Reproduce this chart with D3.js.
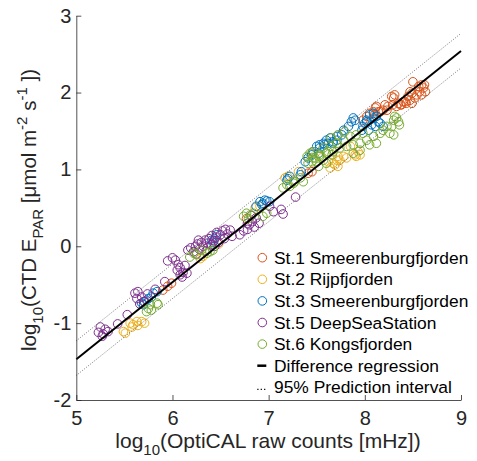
<!DOCTYPE html>
<html>
<head>
<meta charset="utf-8">
<script src="https://cdn.jsdelivr.net/npm/d3@7/dist/d3.min.js"></script>
<style>
  html, body { margin: 0; padding: 0; background: #fff; }
  svg { display: block; font-family: "Liberation Sans", Arial, Helvetica, sans-serif; }
</style>
</head>
<body>
<svg id="chart" width="477" height="461"></svg>
<script>
// ---- Data ----
const seriesNames = ["St.1 Smeerenburgfjorden", "St.2 Rijpfjorden", "St.3 Smeerenburgfjorden", "St.5 DeepSeaStation", "St.6 Kongsfjorden"];
const seriesColors = ["#D95319", "#EDB120", "#0072BD", "#7E2F8E", "#77AC30"];

const st1 = [[5.90,-0.57],[5.99,-0.48],[5.95,-0.52],[6.77,0.36],[7.41,0.95],[7.45,0.97],
  [8.50,2.14],[8.56,2.08],[8.59,2.10],[8.61,2.06],[8.57,2.01],[8.54,1.97],[8.49,1.99],[8.45,1.95],
  [8.42,1.88],[8.38,1.84],[8.35,1.86],[8.33,1.82],[8.30,1.93],[8.28,1.95],[8.24,1.82],[8.19,1.77],
  [8.16,1.75],[8.12,1.82],[8.09,1.75],[8.05,1.73],[8.02,1.69],[7.98,1.64],[8.11,1.80],[8.21,1.84],
  [8.14,1.75],[8.29,1.84],[8.31,1.97],[8.63,2.01],[8.59,1.97],[8.47,1.90],[8.43,1.86],[8.40,1.88],
  [8.49,1.86],[8.37,1.84],[8.23,1.77],[8.10,1.71],[8.47,2.01],[8.52,1.93],[8.62,2.10]];

const st2 = [[5.49,-1.11],[5.51,-1.13],[5.56,-1.00],[5.59,-1.02],[5.58,-1.05],[5.63,-0.98],[5.68,-0.98],
  [5.71,-1.00],[5.64,-1.03],[6.29,-0.16],[6.32,-0.13],[6.48,0.03],[6.86,0.50],[6.91,0.52],[7.17,0.89],
  [7.20,0.91],[7.26,0.86],[7.31,0.97],[7.45,1.21],[7.55,1.15],[7.62,1.10],[7.64,1.02],[7.67,1.08],
  [7.69,1.06],[7.71,1.12],[7.72,1.04],[7.74,1.12],[7.78,1.17],[7.81,1.15],[7.85,1.30],[7.90,1.19],
  [7.91,1.17],[7.93,1.23],[7.95,1.19],[7.72,1.17]];

const st3 = [[5.68,-0.74],[5.71,-0.72],[5.75,-0.68],[5.78,-0.66],[5.80,-0.61],[5.84,-0.59],[5.70,-0.76],
  [5.73,-0.70],[6.41,0.08],[6.44,0.10],[6.46,0.15],[6.42,0.05],[6.87,0.52],[6.91,0.58],[6.94,0.56],
  [6.96,0.60],[6.98,0.59],[7.01,0.58],[6.93,0.54],[7.19,0.86],[7.20,0.88],[7.22,0.91],[7.33,0.93],
  [7.34,0.97],[7.38,1.10],[7.41,1.15],[7.45,1.19],[7.46,1.23],[7.52,1.21],[7.50,1.30],[7.53,1.32],
  [7.57,1.34],[7.60,1.38],[7.64,1.41],[7.67,1.36],[7.71,1.43],[7.76,1.45],[7.78,1.51],[7.83,1.56],
  [7.86,1.62],[7.88,1.67],[7.90,1.64],[7.58,1.32],[7.62,1.34],[7.67,1.34],[7.71,1.38],[7.53,1.28],
  [7.97,1.51],[7.98,1.56],[8.02,1.62],[8.04,1.51],[8.05,1.71],[8.07,1.58],[8.09,1.67],[8.09,1.73],
  [8.11,1.56],[8.12,1.69],[8.14,1.62],[8.00,1.60],[8.16,1.60],[8.19,1.56],[8.02,1.64]];

const st5 = [[5.25,-1.05],[5.30,-1.08],[5.23,-1.12],[5.28,-1.14],[5.33,-1.11],[5.27,-1.17],[5.43,-1.01],
  [5.53,-0.89],[5.61,-0.61],[5.64,-0.59],[5.68,-0.66],[5.63,-0.68],[5.70,-0.72],[5.66,-0.75],[5.74,-0.62],
  [5.82,-0.56],[5.92,-0.46],[5.95,-0.19],[6.00,-0.15],[6.03,-0.18],[6.06,-0.24],[6.05,-0.31],[6.08,-0.28],
  [6.11,-0.34],[6.10,-0.40],[6.15,-0.35],[6.08,-0.37],[6.13,-0.25],[6.16,-0.05],[6.19,-0.02],[6.22,-0.07],
  [6.24,0.00],[6.26,0.03],[6.28,-0.04],[6.30,0.05],[6.32,0.00],[6.34,0.08],[6.36,0.04],[6.38,0.10],
  [6.40,0.02],[6.41,0.14],[6.43,0.07],[6.45,0.12],[6.46,0.18],[6.48,0.05],[6.50,0.15],[6.52,0.20],
  [6.54,0.10],[6.55,0.22],[6.57,0.16],[6.60,0.21],[6.62,0.13],[6.35,-0.06],[6.27,0.08],[6.44,0.00],
  [6.25,-0.10],[6.70,0.15],[6.74,0.20],[6.78,0.22],[6.80,0.28],[6.83,0.32],[6.85,0.25],[6.87,0.37],
  [6.82,0.40],[6.90,0.30],[6.78,0.30],[7.01,0.52],[7.05,0.45],[7.13,0.48],[7.15,0.42],[7.28,0.64]];

const st6 = [[5.77,-0.76],[5.84,-0.74],[5.85,-0.76],[5.75,-0.81],[5.78,-0.83],[5.73,-0.85],[6.18,-0.14],
  [6.22,-0.09],[6.25,-0.11],[6.30,-0.05],[6.36,-0.09],[6.39,-0.07],[6.42,-0.05],[6.74,0.39],[6.77,0.43],
  [6.79,0.36],[6.81,0.41],[6.84,0.43],[6.94,0.39],[6.98,0.43],[7.15,0.76],[7.19,0.80],[7.22,0.78],
  [7.26,0.82],[7.27,0.84],[7.33,0.89],[7.36,0.84],[7.40,1.17],[7.41,1.08],[7.43,1.21],[7.45,1.10],
  [7.46,1.23],[7.48,1.15],[7.50,1.10],[7.52,1.04],[7.53,1.19],[7.57,1.12],[7.60,1.08],[7.62,1.23],
  [7.66,1.19],[7.46,1.15],[7.53,1.17],[7.60,1.21],[7.67,1.23],[7.74,1.28],[7.81,1.30],[7.88,1.32],
  [7.95,1.34],[8.02,1.38],[8.09,1.43],[8.16,1.47],[8.19,1.51],[8.23,1.56],[7.57,1.28],[7.64,1.30],
  [7.71,1.34],[7.78,1.38],[7.85,1.43],[7.91,1.45],[7.98,1.47],[7.65,1.41],[7.72,1.45],[7.79,1.49],
  [8.05,1.32],[8.12,1.34],[7.88,1.21],[7.95,1.25],[8.28,1.56],[8.30,1.64],[8.35,1.62],[8.31,1.69],
  [8.26,1.47],[8.30,1.45],[8.36,1.58],[8.33,1.67]];

const seriesData = [st1, st2, st3, st5, st6];

// regression and 95% prediction interval (end points)
const fitX = [5, 9];
const fitY = [-1.47, 2.54];
const upperY = [-1.23, 2.77];
const lowerY = [-1.68, 2.32];

const xTicks = [5, 6, 7, 8, 9];
const yTicks = [-2, -1, 0, 1, 2, 3];
const extraLegend = ["Difference regression", "95% Prediction interval"];

// ---- Chart ----
const svg = d3.select("#chart");
const axisColor = "#262626";
const x = d3.scaleLinear().domain([5, 9]).range([76.3, 461]);
const y = d3.scaleLinear().domain([-2, 3]).range([400, 15.7]);

// points
seriesData.forEach((pts, i) => {
  svg.append("g").selectAll("circle").data(pts).join("circle")
    .attr("cx", d => x(d[0])).attr("cy", d => y(d[1])).attr("r", 4.3)
    .attr("fill", "none").attr("stroke", seriesColors[i]).attr("stroke-width", 1);
});

// lines
const line = d3.line().x(d => x(d[0])).y(d => y(d[1]));
const mk = ys => fitX.map((v, k) => [v, ys[k]]);
svg.append("path").attr("d", line(mk(upperY))).attr("fill", "none")
  .attr("stroke", "#444").attr("stroke-width", 0.7).attr("stroke-dasharray", "1,1.5");
svg.append("path").attr("d", line(mk(lowerY))).attr("fill", "none")
  .attr("stroke", "#444").attr("stroke-width", 0.7).attr("stroke-dasharray", "1,1.5");
svg.append("path").attr("d", line(mk(fitY))).attr("fill", "none")
  .attr("stroke", "#000").attr("stroke-width", 2);

// axes
const xAxis = d3.axisBottom(x).tickValues(xTicks).tickSizeInner(-5).tickSizeOuter(0).tickPadding(11).tickFormat(d3.format("d"));
const yAxis = d3.axisLeft(y).tickValues(yTicks).tickSizeInner(-5).tickSizeOuter(0).tickPadding(5).tickFormat(d => d < 0 ? "-" + Math.abs(d) : d);
const gx = svg.append("g").attr("transform", "translate(0,400)").call(xAxis);
const gy = svg.append("g").attr("transform", "translate(76.3,0)").call(yAxis);
[gx, gy].forEach(g => {
  g.select(".domain").attr("stroke", axisColor).attr("stroke-width", 0.8);
  g.selectAll(".tick line").attr("stroke", axisColor).attr("stroke-width", 0.8);
  g.selectAll(".tick text").attr("fill", axisColor).style("font-size", "20px").style("font-family", "Liberation Sans, Arial, sans-serif");
});

// axis labels
const xl = svg.append("text").attr("x", 268).attr("y", 448).attr("text-anchor", "middle")
  .attr("fill", axisColor).style("font-size", "21px");
xl.append("tspan").text("log");
xl.append("tspan").attr("dy", 7).style("font-size", "15px").text("10");
xl.append("tspan").attr("dy", -7).text("(OptiCAL raw counts [mHz])");

const yl = svg.append("text").attr("transform", "translate(36,210) rotate(-90)").attr("text-anchor", "middle")
  .attr("fill", axisColor).style("font-size", "20.5px");
yl.append("tspan").text("log");
yl.append("tspan").attr("dy", 7).style("font-size", "15px").text("10");
yl.append("tspan").attr("dy", -7).text("(CTD E");
yl.append("tspan").attr("dy", 7).style("font-size", "15px").text("PAR");
yl.append("tspan").attr("dy", -7).text(" [μmol m");
yl.append("tspan").attr("dy", -9).style("font-size", "15px").text("-2");
yl.append("tspan").attr("dy", 9).text(" s");
yl.append("tspan").attr("dy", -9).style("font-size", "15px").text("-1");
yl.append("tspan").attr("dy", 9).text(" ])");

// legend
const legX = 262.3, legText = 274, legY0 = 257.7, legDy = 21.6;
const lg = svg.append("g");
seriesNames.forEach((n, i) => {
  const yy = legY0 + i * legDy;
  lg.append("circle").attr("cx", legX).attr("cy", yy).attr("r", 4.3)
    .attr("fill", "none").attr("stroke", seriesColors[i]).attr("stroke-width", 1);
  lg.append("text").attr("x", legText).attr("y", yy).attr("dy", "0.35em")
    .attr("fill", "#000").style("font-size", "17.4px").text(n);
});
{
  const yy = legY0 + 5 * legDy;
  lg.append("line").attr("x1", legX - 5).attr("x2", legX + 4).attr("y1", yy).attr("y2", yy)
    .attr("stroke", "#000").attr("stroke-width", 2.5);
  lg.append("text").attr("x", legText).attr("y", yy).attr("dy", "0.35em")
    .attr("fill", "#000").style("font-size", "17.4px").text(extraLegend[0]);
  const yy2 = legY0 + 6 * legDy;
  lg.append("line").attr("x1", legX - 5).attr("x2", legX + 5).attr("y1", yy2 + 2).attr("y2", yy2 + 2)
    .attr("stroke", "#000").attr("stroke-width", 1.2).attr("stroke-dasharray", "1.2,2.2");
  lg.append("text").attr("x", legText).attr("y", yy2).attr("dy", "0.35em")
    .attr("fill", "#000").style("font-size", "17.4px").text(extraLegend[1]);
}
</script>
</body>
</html>
